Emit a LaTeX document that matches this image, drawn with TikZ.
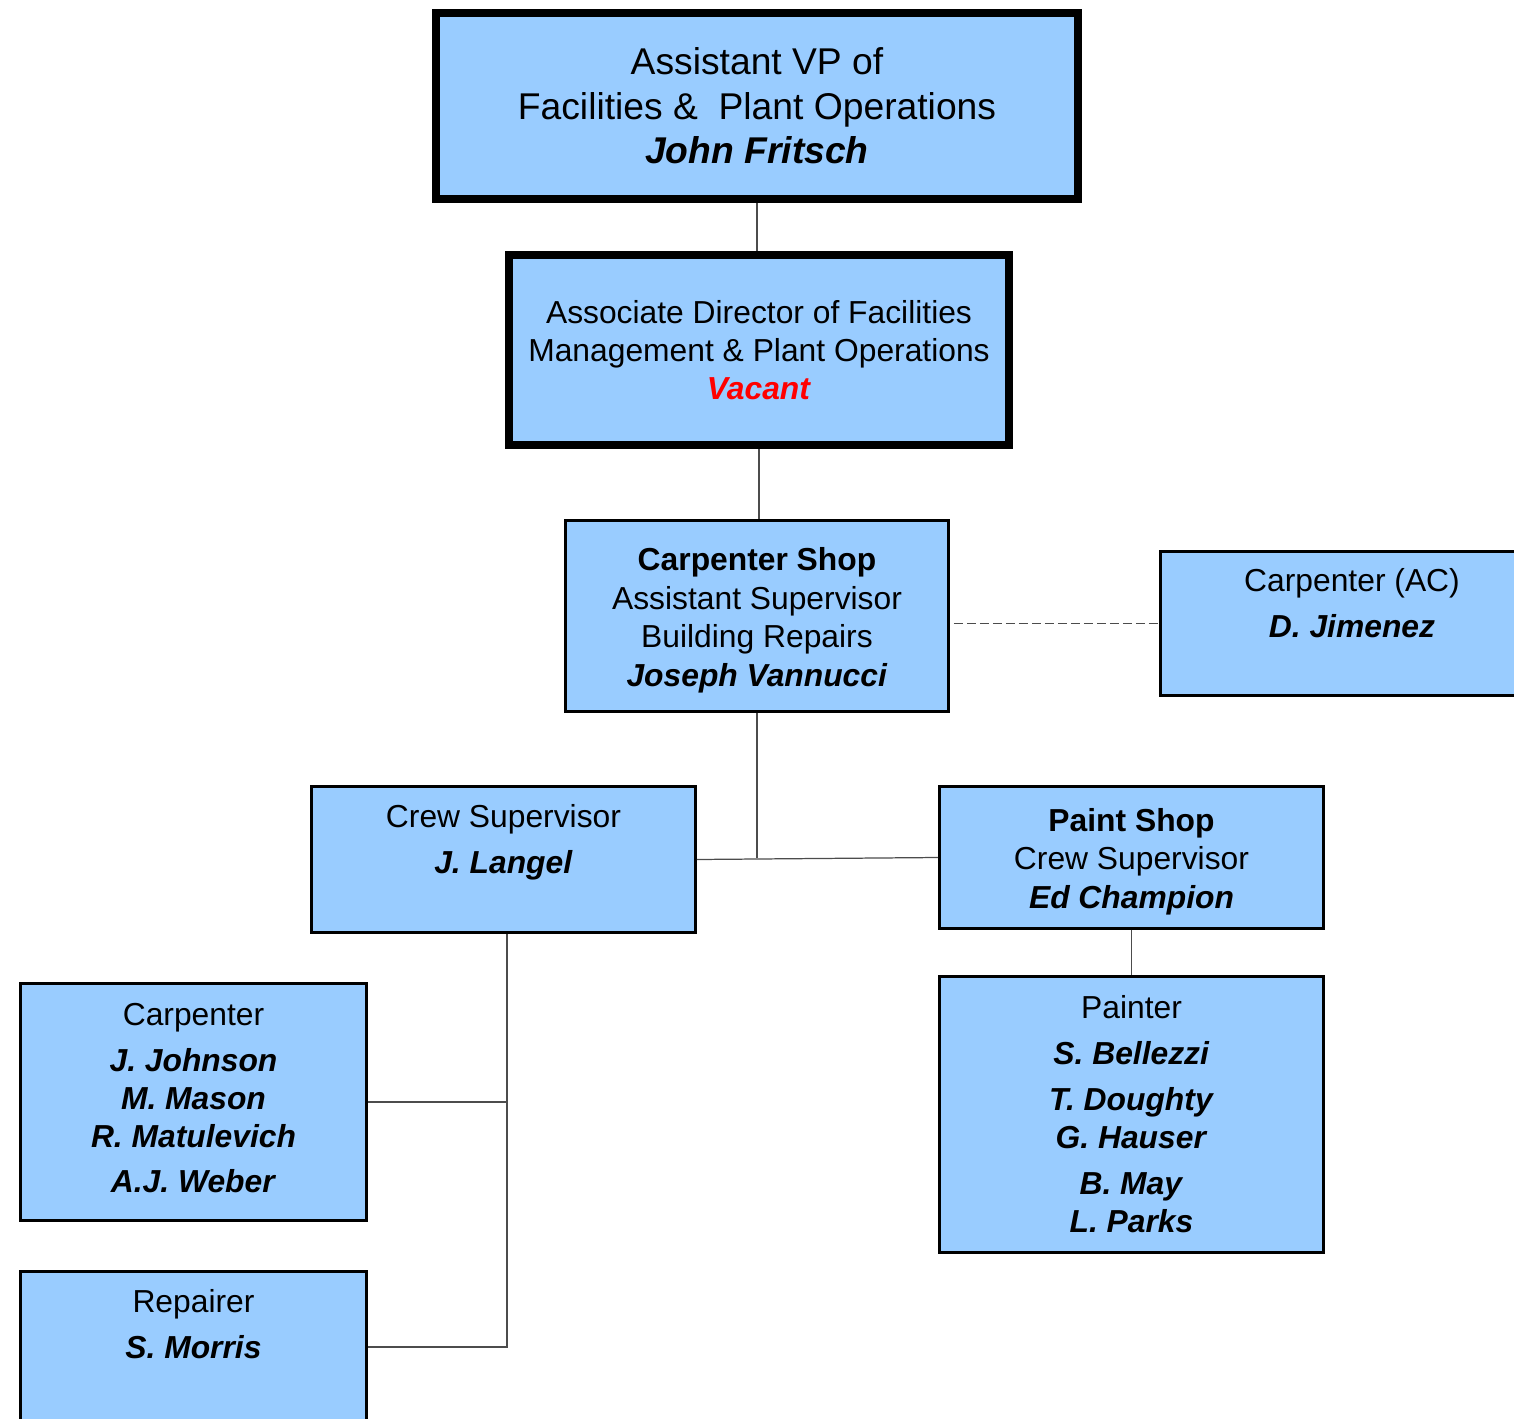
\documentclass[tikz,border=0pt]{standalone}
\usepackage{fontspec}
\setmainfont{Liberation Sans}
\usepackage{tikz}
\usetikzlibrary{positioning, calc}
\definecolor{boxblue}{RGB}{153,204,255}
\newcommand{\nm}[1]{\textbf{\textit{#1}}}

\begin{document}
\begin{tikzpicture}[x=0.02cm, y=-0.02cm,
  box/.style={draw, fill=boxblue, line width=1.7pt, align=center, inner sep=0pt, font={\fontsize{18.1}{21.6}\selectfont}},
  bigbox/.style={box, line width=4.5pt},
  link/.style={draw=black!70, line width=0.7pt}]
\useasboundingbox (0,0) rectangle (1514,1419);
\clip (0,0) rectangle (1514,1419);
% top of the chart
\node[bigbox, minimum width=12.84cm, minimum height=3.72cm, font={\fontsize{21.2}{25.3}\selectfont}] (avp) at (757,106)
  {Assistant VP of\\Facilities \&~~Plant Operations\\\nm{John Fritsch}};
\node[bigbox, minimum width=10cm, minimum height=3.8cm] (assoc) at (759,350)
  {Associate Director of Facilities\\Management \& Plant Operations\\\textcolor{red}{\nm{Vacant}}};
\node[box, minimum width=7.66cm, minimum height=3.82cm, font={\fontsize{18.1}{22}\selectfont}] (shop) at (757,616)
  {\rule{0pt}{17.8pt}\textbf{Carpenter Shop}\\Assistant Supervisor\\Building Repairs\\\nm{Joseph Vannucci}};
\node[box, minimum width=7.68cm, minimum height=2.9cm] (ac) at (1352,623.5)
  {Carpenter (AC)\\[4.6pt]\nm{D. Jimenez}\\[2pt]\mbox{}};
% crews
\node[box, minimum width=7.68cm, minimum height=2.92cm] (crew) at (503.5,859.5)
  {Crew Supervisor\\[4.6pt]\nm{J. Langel}\\[2pt]\mbox{}};
\node[box, minimum width=7.68cm, minimum height=2.84cm, font={\fontsize{18.1}{22}\selectfont}] (paint) at (1131.5,857.5)
  {\rule{0pt}{17.8pt}\textbf{Paint Shop}\\Crew Supervisor\\\nm{Ed Champion}};
\node[box, minimum width=6.92cm, minimum height=4.74cm] (carp) at (193.5,1102)
  {Carpenter\\[4.6pt]\nm{J. Johnson}\\\nm{M. Mason}\\\nm{R. Matulevich}\\[4pt]\nm{A.J. Weber}\rule[-4.8pt]{0pt}{1pt}};
\node[box, minimum width=6.92cm, minimum height=3.12cm] (rep) at (193.5,1349.5)
  {Repairer\\[4.6pt]\nm{S. Morris}\\[7.8pt]\mbox{}};
\node[box, minimum width=7.68cm, minimum height=5.52cm] (painter) at (1131.5,1114.5)
  {Painter\\[4.6pt]\nm{S. Bellezzi}\\[4.6pt]\nm{T. Doughty}\\\nm{G. Hauser}\\[4.6pt]\nm{B. May}\\\nm{L. Parks}};
% connectors
\draw[link] (avp.south) -- (avp.south |- assoc.north);
\draw[link] (assoc.south) -- (assoc.south |- shop.north);
\draw[link, dash pattern=on 5.1pt off 2.3pt] ($(shop.east |- ac.west)+(4,0)$) -- (ac.west);
\draw[link] (crew.east) -- (paint.west);
\draw[link] (shop.south) -- (shop.south |- paint.west);
\coordinate (drop) at ($(crew.south)+(3.5,0)$);
\draw[link] (drop) |- ($(rep.east)+(0,-2.5)$);
\draw[link] (carp.east) -- (carp.east -| drop);
\draw[link] (paint.south) -- (painter.north);
\end{tikzpicture}
\end{document}
